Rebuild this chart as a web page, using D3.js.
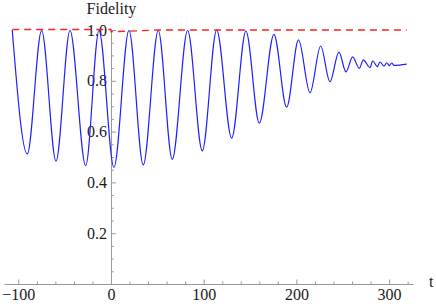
<!DOCTYPE html>
<html lang="en">
<head>
<meta charset="utf-8">
<title>Fidelity</title>
<script src="https://cdn.jsdelivr.net/npm/d3@7"></script>
<style>
body { margin: 0; background: #fff; }
svg { display: block; }
</style>
</head>
<body>
<script>
// extrema of the blue curve
var tPoints = [-106.5, -90.3, -74.8, -59.3, -44.2, -27.3, -12.9, 3.2, 19.4, 34.8, 51.0, 66.1, 82.7, 98.5,
    114.0, 130.2, 145.6, 160.0, 175.8, 189.5, 202.3, 214.7, 226.2, 236.2, 245.9, 253.5, 260.7, 267.9,
    272.2, 279.4, 282.3, 287.3, 290.2, 294.5, 297.4, 300.2, 302.8, 305.3, 319.0];
var fidelity = [1.0, 0.512, 0.998, 0.484, 0.998, 0.466, 0.998, 0.459, 0.998, 0.469, 0.998, 0.491, 0.998, 0.524,
    1.0, 0.574, 0.996, 0.633, 0.983, 0.696, 0.961, 0.753, 0.937, 0.796, 0.913, 0.835, 0.894, 0.849,
    0.882, 0.852, 0.878, 0.856, 0.874, 0.858, 0.871, 0.860, 0.870, 0.861, 0.866];

// red dashed line
var boundT = [-106.5, 0, 0, 15, 30, 50, 319];
var boundF = [1.002, 1.002, 0.993, 0.995, 0.997, 1.0, 1.0];

var xTicks = [-100, 0, 100, 200, 300];
var yTicks = [0.2, 0.4, 0.6, 0.8, 1.0];

var width = 436;
var height = 306;
var font = "Liberation Serif, Times New Roman, serif";

var svg = d3.select("body")
    .append("svg")
    .attr("width", width)
    .attr("height", height);

var x = d3.scaleLinear().domain([-115.4, 325.8]).range([4, 413]);
var y = d3.scaleLinear().domain([0, 1]).range([284, 30]);

var xMinor = d3.range(-100, 321, 20).filter(function(d) { return xTicks.indexOf(d) < 0; });
var yMinor = d3.range(1, 20).filter(function(d) { return d % 4 != 0; }).map(function(d) { return d / 20; });

// minor ticks
svg.append("g")
    .attr("transform", "translate(0," + y(0) + ")")
    .call(d3.axisBottom(x).tickValues(xMinor).tickSizeInner(-2.5).tickSizeOuter(0).tickFormat(""))
    .call(function(g) { g.select(".domain").remove(); });

svg.append("g")
    .attr("transform", "translate(" + x(0) + ",0)")
    .call(d3.axisLeft(y).tickValues(yMinor).tickSizeInner(-2.8).tickSizeOuter(0).tickFormat(""))
    .call(function(g) { g.select(".domain").remove(); });

// major ticks + axis lines
svg.append("g")
    .attr("transform", "translate(0," + y(0) + ")")
    .call(d3.axisBottom(x).tickValues(xTicks).tickSizeInner(-4.5).tickSizeOuter(0).tickPadding(5));

svg.append("g")
    .attr("transform", "translate(" + x(0) + ",0)")
    .call(d3.axisLeft(y).tickValues(yTicks).tickSizeInner(-5).tickSizeOuter(0).tickPadding(4)
        .tickFormat(d3.format(".1f")));

svg.selectAll("g")
    .attr("font-family", font)
    .attr("font-size", 16);

svg.selectAll(".domain, .tick line")
    .attr("stroke", "#999")
    .attr("stroke-width", 1);

svg.selectAll(".tick text")
    .attr("fill", "#1a1a1a");

svg.append("text")
    .attr("x", x(0) + 0.5)
    .attr("y", 13.5)
    .attr("text-anchor", "middle")
    .attr("font-family", font)
    .attr("font-size", 16)
    .attr("fill", "#1a1a1a")
    .text("Fidelity");

svg.append("text")
    .attr("x", 429)
    .attr("y", 287)
    .attr("font-family", font)
    .attr("font-size", 16)
    .attr("fill", "#1a1a1a")
    .text("t");

var curve = d3.line()
    .x(function(d) { return x(d[0]); })
    .y(function(d) { return y(d[1]); })
    .curve(d3.curveMonotoneX);

svg.append("path")
    .datum(d3.zip(tPoints, fidelity))
    .attr("d", curve)
    .attr("fill", "none")
    .attr("stroke", "#1f1fff")
    .attr("stroke-width", 1.2);

var dashed = d3.line()
    .x(function(d) { return x(d[0]); })
    .y(function(d) { return y(d[1]); });

svg.append("path")
    .datum(d3.zip(boundT, boundF))
    .attr("d", dashed)
    .attr("fill", "none")
    .attr("stroke", "#ff2020")
    .attr("stroke-width", 1.3)
    .attr("stroke-dasharray", "7,5");
</script>
</body>
</html>
